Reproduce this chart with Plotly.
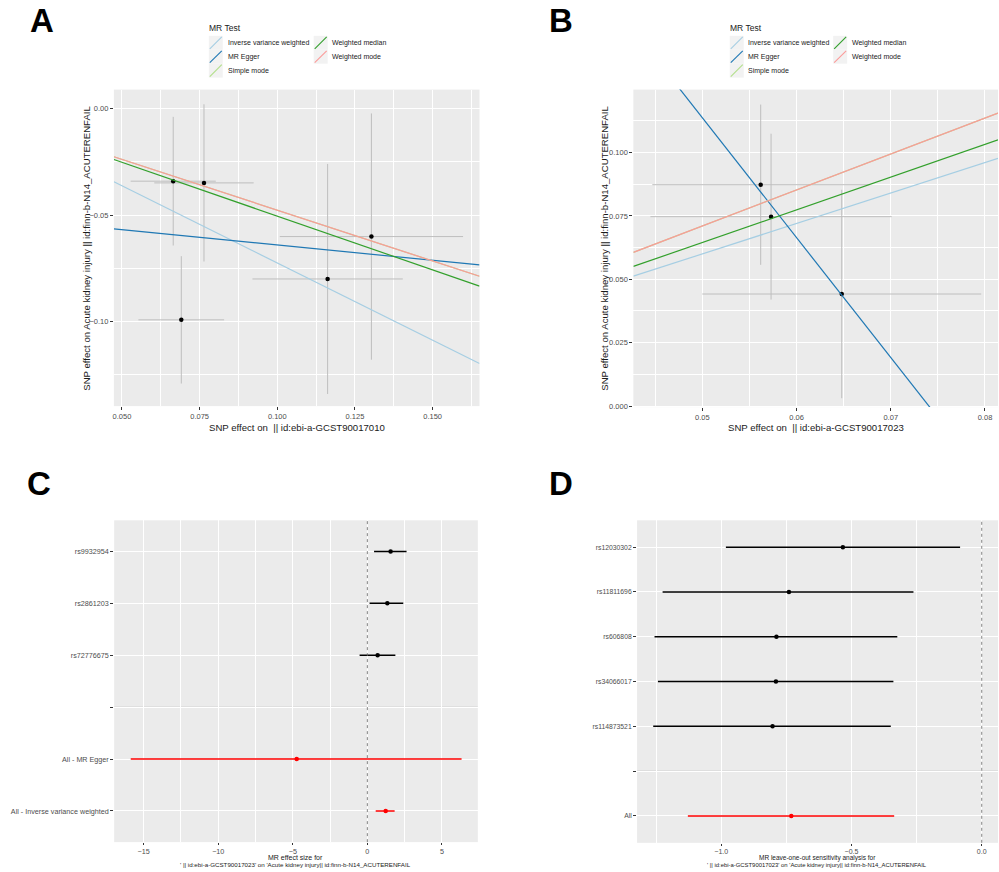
import plotly.graph_objects as go

# ---------------- data ----------------
methods = ["Inverse variance weighted", "MR Egger", "Simple mode", "Weighted median", "Weighted mode"]
method_colors = ["#a6cee3", "#1f78b4", "#b2df8a", "#33a02c", "#fb9a99"]

# Panel A  (exposure GCST90017010)
a_x = [0.0665, 0.0764, 0.1303, 0.1162, 0.0691]
a_y = [-0.0341, -0.0349, -0.0601, -0.0800, -0.0992]
a_se_x = [0.0137, 0.0160, 0.0295, 0.0242, 0.0138]
a_se_y = [0.0302, 0.0369, 0.0578, 0.0540, 0.0299]
a_slope = [-0.725, -0.1436, -0.477, -0.505, -0.477]
a_icpt = [0.0, -0.0497, 0.0, 0.0, 0.0]

# Panel B  (exposure GCST90017023)
b_x = [0.0562, 0.0573, 0.0648]
b_y = [0.0873, 0.0747, 0.0442]
b_se_x = [0.0115, 0.0128, 0.0148]
b_se_y = [0.0316, 0.0327, 0.0411]
b_slope = [1.20, -4.729, 1.42, 1.29, 1.42]
b_icpt = [0.0, 0.3502, 0.0, 0.0, 0.0]

# Panel C  forest plot
c_labels = ["rs9932954", "rs2861203", "rs72776675", "", "All - MR Egger", "All - Inverse variance weighted"]
c_b = [1.56, 1.34, 0.69, None, -4.74, 1.23]
c_lo = [0.45, 0.15, -0.52, None, -15.87, 0.56]
c_hi = [2.63, 2.41, 1.88, None, 6.32, 1.83]

# Panel D  leave-one-out
d_labels = ["rs12030302", "rs11811696", "rs606808", "rs34066017", "rs114873521", "", "All"]
d_b = [-0.533, -0.740, -0.788, -0.790, -0.803, None, -0.731]
d_lo = [-0.982, -1.225, -1.256, -1.243, -1.261, None, -1.128]
d_hi = [-0.083, -0.262, -0.324, -0.339, -0.349, None, -0.336]

null_effect = 0

# ---------------- layout helpers ----------------
W, H = 999, 872
FONT = "Liberation Sans, Arial, sans-serif"
TICKC = "#4D4D4D"
BG = "#EBEBEB"
GRIDC = "#FFFFFF"


def fx(p):
    return p / W


def fy(p):
    return 1 - p / H


fig = go.Figure()

A_xr = [0.0474, 0.1651]
A_yr = [-0.1397, 0.0089]
B_xr = [0.04269, 0.08138]
B_yr = [-0.0004, 0.1248]
C_xr = [-16.98, 7.41]
D_xr = [-1.323, 0.0625]


def scatter_panel(xs, ys, sx, sy, slopes, icpts, xr, xa, ya):
    fig.add_trace(go.Scatter(
        x=xs, y=ys, mode="markers", xaxis=xa, yaxis=ya, showlegend=False,
        marker=dict(color="black", size=4.5),
        error_x=dict(type="data", array=sx, color="#BEBEBE", thickness=1, width=0),
        error_y=dict(type="data", array=sy, color="#BEBEBE", thickness=1, width=0),
        hoverinfo="skip"))
    for m, c, s, i in zip(methods, method_colors, slopes, icpts):
        fig.add_trace(go.Scatter(
            x=xr, y=[i + s * xr[0], i + s * xr[1]], mode="lines",
            xaxis=xa, yaxis=ya, showlegend=False, name=m,
            line=dict(color=c, width=1.2), hoverinfo="skip"))


scatter_panel(a_x, a_y, a_se_x, a_se_y, a_slope, a_icpt, A_xr, "x", "y")
scatter_panel(b_x, b_y, b_se_x, b_se_y, b_slope, b_icpt, B_xr, "x2", "y2")


def forest_panel(labels, b, lo, hi, xa, ya, redset):
    pos = list(range(1, len(labels) + 1))
    for k, lab in enumerate(labels):
        if b[k] is None:
            continue
        col = "red" if lab in redset else "black"
        fig.add_trace(go.Scatter(
            x=[lo[k], hi[k]], y=[pos[k], pos[k]], mode="lines", xaxis=xa, yaxis=ya,
            showlegend=False, line=dict(color=col, width=1.5), hoverinfo="skip"))
        fig.add_trace(go.Scatter(
            x=[b[k]], y=[pos[k]], mode="markers", xaxis=xa, yaxis=ya,
            showlegend=False, marker=dict(color=col, size=4.5), hoverinfo="skip"))
    return pos


c_pos = forest_panel(c_labels, c_b, c_lo, c_hi, "x3", "y3",
                     {"All - MR Egger", "All - Inverse variance weighted"})
d_pos = forest_panel(d_labels, d_b, d_lo, d_hi, "x4", "y4", {"All"})

shapes = []
# separators and null lines
for xa, ya, labels, pos in [("x3", "y3", c_labels, c_pos), ("x4", "y4", d_labels, d_pos)]:
    sep = pos[labels.index("")]
    shapes.append(dict(type="line", xref=f"{xa} domain", yref=ya, x0=0, x1=1, y0=sep, y1=sep,
                       line=dict(color="#C8C8C8", width=1), layer="below"))
    shapes.append(dict(type="line", xref=xa, yref=f"{ya} domain", x0=null_effect, x1=null_effect,
                       y0=0, y1=1, line=dict(color="#666666", width=0.8, dash="dot"), layer="above"))

# ---------------- axes ----------------
tickfont = dict(family=FONT, size=7.5, color=TICKC)


def ax(domain, rng, dtick, tick0, mdtick, **kw):
    d = dict(domain=domain, range=rng, dtick=dtick, tick0=tick0, showgrid=True,
             gridcolor=GRIDC, gridwidth=1.1, zeroline=False, showline=False,
             ticks="outside", ticklen=3, tickwidth=0.8, tickcolor="#333333",
             tickfont=tickfont,
             minor=dict(dtick=mdtick, tick0=tick0, showgrid=True, gridcolor=GRIDC,
                        gridwidth=0.5, ticks=""))
    d.update(kw)
    return d


A_xd = [fx(113), fx(479)]
A_yd = [fy(408), fy(90)]
B_xd = [fx(633), fx(998)]
B_yd = [fy(409), fy(90)]
C_xd = [fx(113.3), fx(477.3)]
C_yd = [fy(846), fy(522.7)]
D_xd = [fx(636.7), fx(998)]
D_yd = [fy(846.7), fy(522.7)]

ytick_common = dict(showgrid=True, gridcolor=GRIDC, gridwidth=1.1, zeroline=False,
                    ticks="outside", ticklen=3, tickwidth=0.8, tickcolor="#333333")

fig.update_layout(
    width=W, height=H, margin=dict(l=0, r=0, t=0, b=0),
    paper_bgcolor="white", plot_bgcolor=BG, showlegend=False,
    xaxis=ax(A_xd, A_xr, 0.025, 0.05, 0.0125, anchor="y", tickformat=".3f"),
    yaxis=ax(A_yd, A_yr, 0.05, 0, 0.025, anchor="x", tickformat=".2f"),
    xaxis2=ax(B_xd, B_xr, 0.01, 0.05, 0.005, anchor="y2", tickformat=".2f"),
    yaxis2=ax(B_yd, B_yr, 0.025, 0, 0.0125, anchor="x2", tickformat=".3f"),
    xaxis3=ax(C_xd, C_xr, 5, 0, 2.5, anchor="y3", ticklen=2,
              tickfont=dict(family=FONT, size=7.2, color=TICKC)),
    yaxis3=dict(domain=C_yd, range=[len(c_labels) + 0.6, 0.4], anchor="x3",
                tickmode="array", tickvals=c_pos, ticktext=c_labels,
                tickfont=dict(family=FONT, size=7.2, color=TICKC), **ytick_common),
    xaxis4=ax(D_xd, D_xr, 0.5, 0, 0.25, anchor="y4", tickformat=".1f", ticklen=2,
              tickfont=dict(family=FONT, size=7, color=TICKC)),
    yaxis4=dict(domain=D_yd, range=[len(d_labels) + 0.6, 0.4], anchor="x4",
                tickmode="array", tickvals=d_pos, ticktext=d_labels,
                tickfont=dict(family=FONT, size=6.8, color=TICKC), **ytick_common),
)

# ---------------- annotations ----------------
ann = []


def text(x, y, s, size, color="black", anchor="center", angle=0, bold=False):
    ann.append(dict(x=fx(x), y=fy(y), xref="paper", yref="paper", text=(f"<b>{s}</b>" if bold else s),
                    showarrow=False, xanchor=anchor, yanchor="middle", textangle=angle,
                    font=dict(family=FONT, size=size, color=color)))


# panel letters
text(41, 21, "A", 33, bold=True)
text(561, 21, "B", 33, bold=True)
text(38, 486, "C", 33, bold=True)
text(561, 486, "D", 33, bold=True)

# axis titles
ytitle = "SNP effect on Acute kidney injury || id:finn-b-N14_ACUTERENFAIL"
text(86, 249, ytitle, 9.6, color="#1a1a1a", angle=-90)
text(604, 249.5, ytitle, 9.6, color="#1a1a1a", angle=-90)
text(296, 429, "SNP effect on  || id:ebi-a-GCST90017010", 9.6, color="#1a1a1a")
text(815.5, 429, "SNP effect on  || id:ebi-a-GCST90017023", 9.6, color="#1a1a1a")
text(295, 861, "MR effect size for", 7.0, color="#1a1a1a")
text(295, 868, "' || id:ebi-a-GCST90017023' on 'Acute kidney injury|| id:finn-b-N14_ACUTERENFAIL", 6.2,
     color="#1a1a1a")
text(817, 862, "MR leave-one-out sensitivity analysis for", 6.5, color="#1a1a1a")
text(817, 868.8, "' || id:ebi-a-GCST90017023' on 'Acute kidney injury|| id:finn-b-N14_ACUTERENFAIL", 5.9,
     color="#1a1a1a")


# legends (drawn as keys + text)
def legend(title_x, key_x1, text_x1, key_x2, text_x2):
    text(title_x, 28, "MR Test", 8.5, color="#1a1a1a", anchor="left")
    rows = [43, 57, 71]
    slots = [(key_x1, text_x1, rows[0]), (key_x1, text_x1, rows[1]), (key_x1, text_x1, rows[2]),
             (key_x2, text_x2, rows[0]), (key_x2, text_x2, rows[1])]
    for (kx, tx, ry), m, c in zip(slots, methods, method_colors):
        shapes.append(dict(type="rect", xref="paper", yref="paper", x0=fx(kx), x1=fx(kx + 14),
                           y0=fy(ry + 7), y1=fy(ry - 7), fillcolor="#F2F2F2", line=dict(width=0),
                           layer="above"))
        shapes.append(dict(type="line", xref="paper", yref="paper", x0=fx(kx + 1), x1=fx(kx + 13),
                           y0=fy(ry + 6), y1=fy(ry - 6), line=dict(color=c, width=1.1), layer="above"))
        text(tx, ry, m, 7, color="#1a1a1a", anchor="left")


legend(206, 208, 225, 313, 329)
legend(728, 729.5, 745.5, 833, 849.5)

fig.update_layout(annotations=ann, shapes=shapes)

fig.write_html("out.html")
